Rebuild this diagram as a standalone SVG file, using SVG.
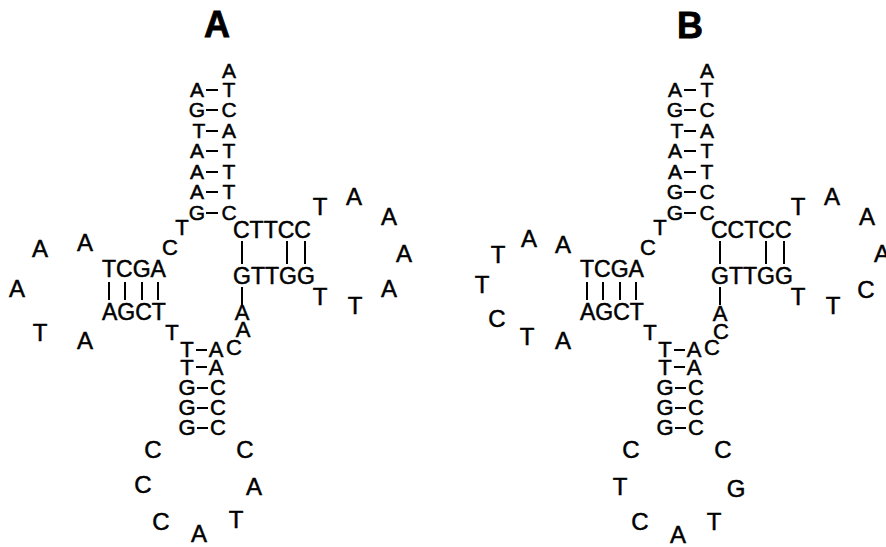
<svg xmlns="http://www.w3.org/2000/svg" width="886" height="547" viewBox="0 0 886 547">
<style>
text{font-family:"Liberation Sans",Arial,Helvetica,sans-serif;fill:#000;stroke:#000;stroke-width:0.5}
.t{font-size:36px;font-weight:bold;text-anchor:middle;stroke-width:0.8}
.v{font-size:21px;text-anchor:middle}
.h{font-size:23px}
.b{font-size:22px;text-anchor:middle}
.l{font-size:24px;text-anchor:middle}
.j{font-size:22px;text-anchor:middle}
.c{stroke:#000;stroke-width:2;fill:none}
</style>
<rect width="886" height="547" fill="#fff"/>
<g id="panelA">
<text class="t" x="217" y="37">A</text>
<g id="A-top-stem">
<text class="v" x="229" y="78">A</text>
<text class="v" x="197" y="97">A</text><text class="v" x="229" y="97">T</text>
<text class="v" x="197" y="117">G</text><text class="v" x="229" y="117">C</text>
<text class="v" x="199" y="138">T</text><text class="v" x="229" y="138">A</text>
<text class="v" x="197" y="158">A</text><text class="v" x="229" y="158">T</text>
<text class="v" x="197" y="179">A</text><text class="v" x="229" y="179">T</text>
<text class="v" x="197" y="199">A</text><text class="v" x="229" y="199">T</text>
<text class="v" x="197" y="220">G</text><text class="v" x="229" y="220">C</text>
</g>
<g id="A-left-stem">
<text class="h" x="102" y="277">TCGA</text>
<text class="h" x="102" y="320">AGCT</text>
</g>
<g id="A-right-stem">
<text class="h" x="233" y="238">CTTCC</text>
<text class="h" x="233" y="284">GTTGG</text>
</g>
<g id="A-bottom-stem">
<text class="b" x="187" y="357">T</text><text class="b" x="216" y="357">A</text><text class="b" x="234" y="355">C</text>
<text class="b" x="187" y="375">T</text><text class="b" x="216" y="375">A</text>
<text class="b" x="187" y="395">G</text><text class="b" x="218" y="395">C</text>
<text class="b" x="187" y="415">G</text><text class="b" x="218" y="415">C</text>
<text class="b" x="187" y="435">G</text><text class="b" x="218" y="435">C</text>
</g>
<g id="A-junction">
<text class="j" x="182" y="235">T</text>
<text class="j" x="170" y="255">C</text>
<text class="j" x="172" y="340">T</text>
<text class="j" x="242" y="320">A</text>
<text class="j" x="243" y="337">A</text>
</g>
<g id="A-left-loop">
<text class="l" x="40" y="257">A</text>
<text class="l" x="85" y="251">A</text>
<text class="l" x="17" y="297">A</text>
<text class="l" x="40" y="341">T</text>
<text class="l" x="85" y="349">A</text>
</g>
<g id="A-right-loop">
<text class="l" x="320" y="215">T</text>
<text class="l" x="354" y="205">A</text>
<text class="l" x="389" y="225">A</text>
<text class="l" x="404" y="262">A</text>
<text class="l" x="389" y="297">A</text>
<text class="l" x="320" y="305">T</text>
<text class="l" x="355" y="314">T</text>
</g>
<g id="A-bottom-loop">
<text class="l" x="153" y="458">C</text>
<text class="l" x="245" y="458">C</text>
<text class="l" x="143" y="493">C</text>
<text class="l" x="254" y="495">A</text>
<text class="l" x="161" y="530">C</text>
<text class="l" x="199" y="542">A</text>
<text class="l" x="236" y="528">T</text>
</g>
</g>
<g id="panelB">
<text class="t" x="690" y="38">B</text>
<g id="B-top-stem">
<text class="v" x="707" y="78">A</text>
<text class="v" x="675" y="97">A</text><text class="v" x="707" y="97">T</text>
<text class="v" x="675" y="117">G</text><text class="v" x="707" y="117">C</text>
<text class="v" x="677" y="138">T</text><text class="v" x="707" y="138">A</text>
<text class="v" x="675" y="158">A</text><text class="v" x="707" y="158">T</text>
<text class="v" x="675" y="179">A</text><text class="v" x="707" y="179">T</text>
<text class="v" x="675" y="199">G</text><text class="v" x="707" y="199">C</text>
<text class="v" x="675" y="220">G</text><text class="v" x="707" y="220">C</text>
</g>
<g id="B-left-stem">
<text class="h" x="580" y="277">TCGA</text>
<text class="h" x="580" y="320">AGCT</text>
</g>
<g id="B-right-stem">
<text class="h" x="711" y="238">CCTCC</text>
<text class="h" x="711" y="284">GTTGG</text>
</g>
<g id="B-bottom-stem">
<text class="b" x="665" y="357">T</text><text class="b" x="694" y="357">A</text><text class="b" x="712" y="355">C</text>
<text class="b" x="665" y="375">T</text><text class="b" x="694" y="375">A</text>
<text class="b" x="665" y="395">G</text><text class="b" x="696" y="395">C</text>
<text class="b" x="665" y="415">G</text><text class="b" x="696" y="415">C</text>
<text class="b" x="665" y="435">G</text><text class="b" x="696" y="435">C</text>
</g>
<g id="B-junction">
<text class="j" x="660" y="235">T</text>
<text class="j" x="648" y="255">C</text>
<text class="j" x="650" y="340">T</text>
<text class="j" x="720" y="321">A</text>
<text class="j" x="721" y="339">C</text>
</g>
<g id="B-left-loop">
<text class="l" x="498" y="263">T</text>
<text class="l" x="529" y="247">A</text>
<text class="l" x="563" y="253">A</text>
<text class="l" x="482" y="293">T</text>
<text class="l" x="497" y="327">C</text>
<text class="l" x="527" y="345">T</text>
<text class="l" x="563" y="349">A</text>
</g>
<g id="B-right-loop">
<text class="l" x="798" y="215">T</text>
<text class="l" x="832" y="205">A</text>
<text class="l" x="867" y="225">A</text>
<text class="l" x="882" y="262">A</text>
<text class="l" x="866" y="298">C</text>
<text class="l" x="798" y="305">T</text>
<text class="l" x="833" y="314">T</text>
</g>
<g id="B-bottom-loop">
<text class="l" x="631" y="458">C</text>
<text class="l" x="723" y="458">C</text>
<text class="l" x="620" y="495">T</text>
<text class="l" x="736" y="497">G</text>
<text class="l" x="640" y="530">C</text>
<text class="l" x="678" y="543">A</text>
<text class="l" x="714" y="530">T</text>
</g>
</g>
<g id="connectors" class="c">
<path d="M206 90H218M206 110H218M206 131H218M206 151H218M206 172H218M206 192H218M206 213H218"/>
<path d="M109 282V300M125 282V300M142 282V300M158 282V300"/>
<path d="M242 241V264M287 241V264M305 241V264"/>
<path d="M242 287V305"/>
<path d="M196 350H207M196 367H207M197 388H208M197 408H208M197 428H208"/>
<path d="M684 90H696M684 110H696M684 131H696M684 151H696M684 172H696M684 192H696M684 213H696"/>
<path d="M587 282V300M603 282V300M620 282V300M636 282V300"/>
<path d="M720 241V264M766 241V264M784 241V264"/>
<path d="M720 287V305"/>
<path d="M674 350H685M674 367H685M675 388H686M675 408H686M675 428H686"/>
</g>
</svg>
